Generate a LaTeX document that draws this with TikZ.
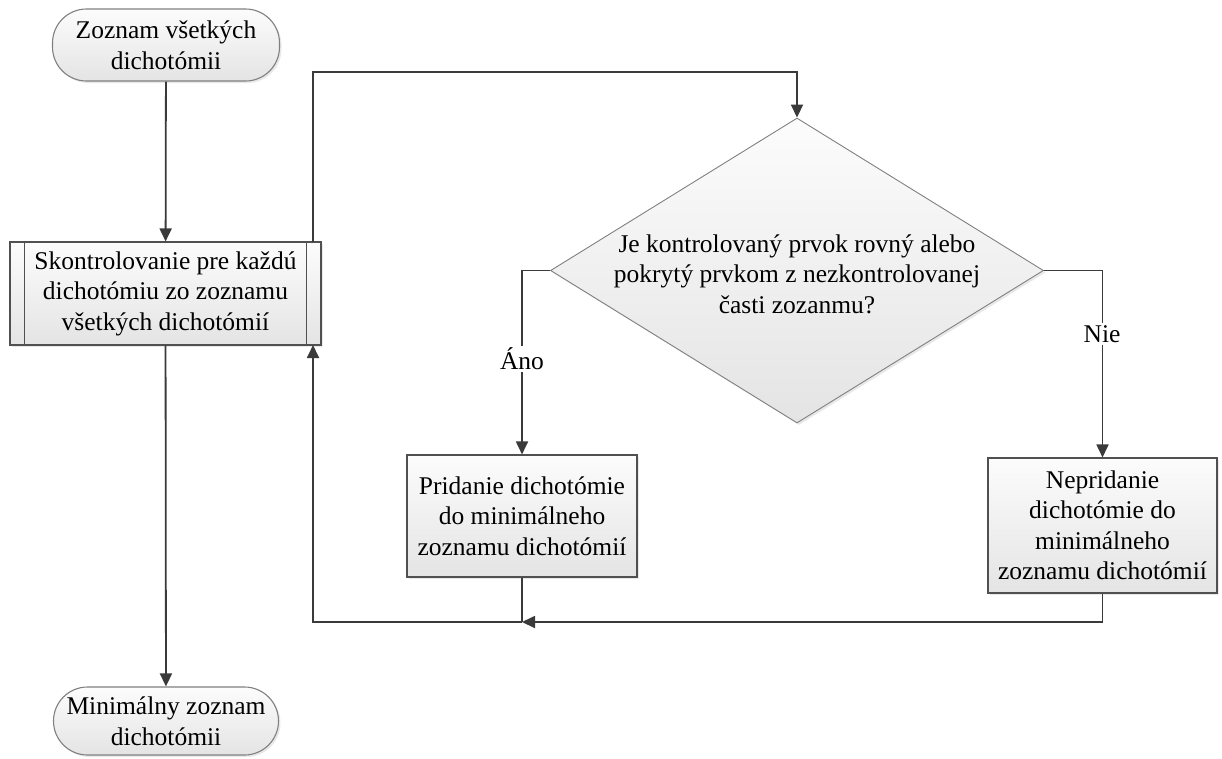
\documentclass[tikz,border=0pt]{standalone}
\usepackage{fontspec}
\setmainfont{Liberation Serif}
\usetikzlibrary{shapes.geometric,arrows.meta,shadows}

\definecolor{linec}{HTML}{3A3A3A}
\definecolor{edgec}{HTML}{505050}
\definecolor{boxtop}{HTML}{FCFCFC}
\definecolor{boxbot}{HTML}{E4E4E4}

\tikzset{
  base/.style={draw=edgec, line width=1.1pt, top color=boxtop, bottom color=boxbot,
    drop shadow={opacity=0.18, shadow xshift=2pt, shadow yshift=-2pt},
    font=\fontsize{25.5}{30.5}\selectfont, align=center, inner sep=0pt},
  terminal/.style={base, draw=gray, minimum width=227pt, minimum height=72pt, rounded corners=34pt},
  procbox/.style={base, minimum width=311pt, minimum height=103pt},
  actbox/.style={base},
  decision/.style={base, draw=gray, line width=0.9pt, diamond, inner sep=0pt},
  flow/.style={draw=linec, line width=1.8pt, -{Triangle[length=13pt,width=12pt]}},
  plain/.style={draw=linec, line width=1.8pt},
  answer/.style={fill=white, font=\fontsize{25.5}{30}\selectfont, inner sep=2pt}
}

\begin{document}
\begin{tikzpicture}[x=1pt,y=-1pt]
  \useasboundingbox (0,0) rectangle (1222,758);

  % terminators
  \node[terminal] (start) at (166,45) {Zoznam všetkých\\dichotómii};
  \node[terminal, minimum width=225pt, minimum height=68pt] (stop) at (166,721) {Minimálny zoznam\\dichotómii};

  % predefined process with double side bars
  \node[procbox] (proc) at (165.5,293.5) {Skontrolovanie pre každú\\dichotómiu zo zoznamu\\všetkých dichotómií};
  \draw[edgec, line width=1pt] ([xshift=15pt]proc.north west) -- ([xshift=15pt]proc.south west);
  \draw[edgec, line width=1pt] ([xshift=-15pt]proc.north east) -- ([xshift=-15pt]proc.south east);

  % decision
  \node[decision, minimum width=493pt, minimum height=305pt] (dec) at (797,270.5) {};
  \node[font=\fontsize{25.5}{30.5}\selectfont, align=center] (dectext) at (797,274)
    {Je kontrolovaný prvok rovný alebo\\pokrytý prvkom z nezkontrolovanej\\časti zozanmu?};

  % outcome boxes
  \node[actbox, minimum width=230pt, minimum height=122pt] (yes) at (522,516)
    {Pridanie dichotómie\\do minimálneho\\zoznamu dichotómií};
  \node[actbox, minimum width=229pt, minimum height=135pt] (no) at (1102.5,525.5)
    {Nepridanie\\dichotómie do\\minimálneho\\zoznamu dichotómií};

  % helper points of the loop
  \coordinate (procout) at (313,242);
  \coordinate (procin) at (313,345);
  \coordinate (looptop) at (797,72);
  \coordinate (join) at (522,622);
  \coordinate (loopbot) at (313,622);

  % main flow
  \draw[flow] (start) -- (proc);
  \draw[flow] (proc) -- (stop);
  \draw[flow] (procout) |- (looptop) -- (dec.north);
  \draw[flow] (dec.west) -| (yes.north);
  \draw[flow] (dec.east) -| (no.north);

  % return path
  \draw[plain] (yes.south) -- (join);
  \draw[flow] (no.south) |- (join);
  \draw[flow] (join) -- (loopbot) -- (procin);

  % branch labels
  \node[answer] (lblyes) at (522,359) {Áno};
  \node[answer] (lblno) at (1102,334) {Nie};
\end{tikzpicture}
\end{document}
